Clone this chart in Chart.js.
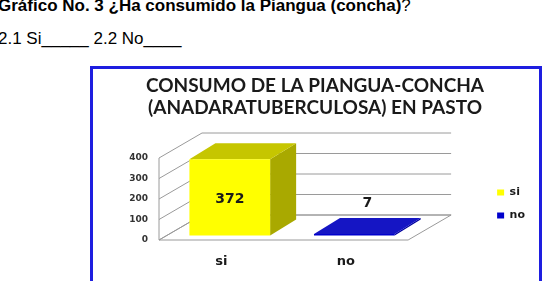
<!DOCTYPE html>
<html lang="es">
<head>
<meta charset="utf-8">
<title>Consumo de la piangua-concha</title>
<script src="https://cdn.jsdelivr.net/npm/chart.js@4.4.1/dist/chart.umd.min.js"></script>
<style>
  body { margin: 0; background: #fff; width: 552px; height: 281px; overflow: hidden; position: relative; font-family: "Liberation Sans", Arial, sans-serif; color: #000; }
  .pregunta { position: absolute; left: -2px; top: -3px; font-size: 17px; line-height: 17px; font-weight: bold; white-space: nowrap; }
  .pregunta span { font-weight: normal; }
  .opciones { position: absolute; left: -2px; top: 30px; font-size: 17px; line-height: 17px; white-space: nowrap; }
  .marco { position: absolute; left: 90px; top: 66px; width: 446px; height: 240px; border: 3px solid #1e1ee0; background: #fff; }
  #grafico { position: absolute; left: 0; top: 0; }
</style>
</head>
<body>
<div class="pregunta">Gráfico No. 3 ¿Ha consumido la Piangua (concha)<span>?</span></div>
<div class="opciones">2.1 Si_____ 2.2 No____</div>
<div class="marco"></div>
<canvas id="grafico" width="552" height="281"></canvas>
<script>
// Datos
var categorias = ['si', 'no'];
var consumo = [372, 7];
var ticksY = [0, 100, 200, 300, 400];
var titulo = ['CONSUMO DE LA PIANGUA-CONCHA', '(ANADARATUBERCULOSA) EN PASTO'];

// colores de cada barra: frente, tapa y lado
var colorFrente = ['#ffff00', '#0000cc'];
var colorTapa = ['#c6c600', '#1515c4'];
var colorLado = ['#a9a900', '#00009e'];

// profundidad de la caja (pared + piso) y de las barras
var PROF = { dx: 43, dy: -25 };
var BARRA = { dx: 26, dy: -16, ox: 8.5, oy: -4.5 };

function poligono(ctx, pts, color) {
  ctx.beginPath();
  ctx.moveTo(pts[0][0], pts[0][1]);
  for (var k = 1; k < pts.length; k++) ctx.lineTo(pts[k][0], pts[k][1]);
  ctx.closePath();
  ctx.fillStyle = color;
  ctx.fill();
}

// dibuja la caja 3D y las barras con volumen a partir de las escalas
var caja3d = {
  id: 'caja3d',
  beforeDatasetsDraw: function (chart) {
    var ctx = chart.ctx;
    var a = chart.chartArea;
    var y = chart.scales.y;
    ctx.save();
    ctx.lineWidth = 1;
    ctx.strokeStyle = '#9a9a9a';

    // piso
    ctx.beginPath();
    ctx.moveTo(a.left, a.bottom);
    ctx.lineTo(a.right, a.bottom);
    ctx.lineTo(a.right + PROF.dx, a.bottom + PROF.dy);
    ctx.lineTo(a.left + PROF.dx, a.bottom + PROF.dy);
    ctx.closePath();
    ctx.fillStyle = '#fff';
    ctx.fill();
    ctx.stroke();

    // borde de la pared izquierda
    ctx.beginPath();
    ctx.moveTo(a.left, a.bottom);
    ctx.lineTo(a.left, a.top);
    ctx.stroke();

    // cuadricula: pared lateral + pared del fondo
    y.ticks.forEach(function (t) {
      var py = y.getPixelForValue(t.value);
      ctx.beginPath();
      ctx.moveTo(a.left, py);
      ctx.lineTo(a.left + PROF.dx, py + PROF.dy);
      ctx.lineTo(a.right + PROF.dx, py + PROF.dy);
      ctx.stroke();
    });

    // barras
    chart.data.datasets.forEach(function (ds, i) {
      chart.getDatasetMeta(i).data.forEach(function (bar, j) {
        var valor = ds.data[j];
        if (valor == null) return;
        var x0 = bar.x - bar.width / 2 + BARRA.ox;
        var x1 = bar.x + bar.width / 2 + BARRA.ox;
        var yt = bar.y + BARRA.oy;
        var yb = bar.base + BARRA.oy;
        poligono(ctx, [[x1, yt], [x1 + BARRA.dx, yt + BARRA.dy], [x1 + BARRA.dx, yb + BARRA.dy], [x1, yb]], colorLado[i]);
        poligono(ctx, [[x0, yt], [x1, yt], [x1 + BARRA.dx, yt + BARRA.dy], [x0 + BARRA.dx, yt + BARRA.dy]], colorTapa[i]);
        poligono(ctx, [[x0, yt], [x1, yt], [x1, yb], [x0, yb]], colorFrente[i]);

        // etiqueta del valor
        ctx.font = 'bold 14px "DejaVu Sans"';
        ctx.fillStyle = '#1a1a1a';
        ctx.textAlign = 'center';
        ctx.textBaseline = 'middle';
        if (yb - yt > 30) {
          ctx.fillText(valor, (x0 + x1) / 2, (yt + yb) / 2 + 2);
        } else {
          ctx.fillText(valor, (x0 + x1) / 2 + BARRA.dx / 2, yt + BARRA.dy - 15);
        }
      });
    });
    ctx.restore();
    return false;
  }
};

var fuenteEje = { family: 'DejaVu Sans', weight: 'bold' };

new Chart(document.getElementById('grafico'), {
  type: 'bar',
  data: {
    labels: categorias,
    datasets: categorias.map(function (c, i) {
      return {
        label: c,
        data: consumo.map(function (v, j) { return j === i ? v : null; }),
        backgroundColor: colorFrente[i],
        borderWidth: 0,
        skipNull: true,
        categoryPercentage: 0.8,
        barPercentage: 0.81,
        xAxisID: 'x',
        yAxisID: 'y'
      };
    })
  },
  options: {
    responsive: false,
    animation: false,
    devicePixelRatio: 1,
    layout: { padding: { left: 95, right: 17, top: 0, bottom: 0 } },
    plugins: {
      title: {
        display: true,
        text: titulo,
        color: '#1a1a1a',
        font: { family: 'Lato', size: 19, weight: 'bold', lineHeight: '22px' },
        padding: { top: 75, bottom: 39 }
      },
      legend: {
        position: 'right',
        fullSize: false,
        // titulo vacio: solo baja un poco los elementos
        title: { display: true, text: ' ', font: { size: 8, lineHeight: '10px' }, padding: 0 },
        labels: {
          boxWidth: 7,
          boxHeight: 6,
          padding: 12,
          color: '#1a1a1a',
          font: { family: 'DejaVu Sans', size: 11, weight: 'bold' }
        }
      },
      tooltip: { enabled: false }
    },
    scales: {
      x: {
        grid: { display: false, drawTicks: false },
        border: { display: false },
        ticks: { padding: 14, color: '#1a1a1a', font: Object.assign({ size: 13 }, fuenteEje) },
        afterFit: function (s) { s.height = 41; }
      },
      y: {
        min: 0,
        max: 400,
        afterBuildTicks: function (s) { s.ticks = ticksY.map(function (v) { return { value: v }; }); },
        grid: { display: false, drawTicks: false },
        border: { display: false },
        ticks: { padding: 11, color: '#333', font: Object.assign({ size: 9 }, fuenteEje) },
        afterFit: function (s) { s.width = 64; }
      },
      relleno: {
        type: 'linear',
        position: 'right',
        grid: { display: false },
        border: { display: false },
        ticks: { display: false },
        afterFit: function (s) { s.width = 77; }
      }
    }
  },
  plugins: [caja3d]
});
</script>
</body>
</html>
